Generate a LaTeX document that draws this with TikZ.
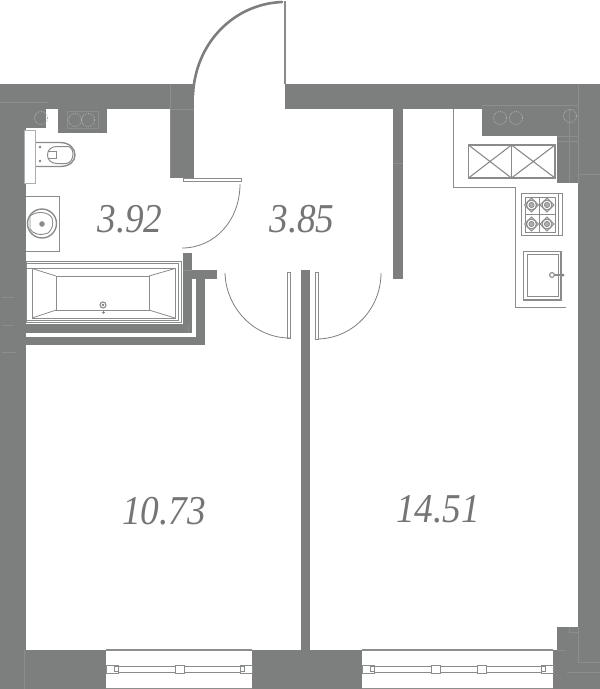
\documentclass[tikz,border=0pt]{standalone}
\usepackage{fontspec}
\setmainfont{Liberation Serif}
\definecolor{wallc}{HTML}{7D7F7E}
\definecolor{seam}{HTML}{8C8E8D}
\definecolor{linec}{HTML}{8A8C8B}
\definecolor{labelc}{HTML}{747675}
\tikzset{
  wall/.style={fill=wallc,draw=none},
  seamline/.style={draw=seam,line width=0.6pt},
  thin line/.style={draw=linec,line width=0.8pt},
  fixture/.style={draw=linec,line width=1.1pt},
  heavy/.style={draw=linec,line width=1.7pt},
  swing/.style={draw=wallc,line width=0.8pt},
  area/.style={text=labelc,font=\fontsize{41}{41}\selectfont\itshape,inner sep=0pt,xscale=0.91},
  leaf/.style={draw=linec,line width=0.9pt,fill=white},
}
\begin{document}
\begin{tikzpicture}[x=1pt,y=-1pt]
\useasboundingbox (0,0) rectangle (600,689);
% outer walls
\fill[wall] (0,84) rectangle (194,109);
\fill[wall] (170,84) rectangle (194,178);
\fill[wall] (0,84) rectangle (26,689);
\fill[wall] (285,84) rectangle (600,109);
\fill[wall] (578,84) rectangle (600,689);
\fill[wall] (26,650) rectangle (106,689);
\fill[wall] (252,650) rectangle (362,689);
\fill[wall] (553,650) rectangle (600,689);
\fill[wall] (557,627) rectangle (578,650);
% partitions
\fill[wall] (301,270) rectangle (310,650);
\fill[wall] (393,109) rectangle (403,279);
\fill[wall] (183,253) rectangle (192,333);
\fill[wall] (183,270) rectangle (217,279);
\fill[wall] (196,279) rectangle (205,345);
\fill[wall] (26,324) rectangle (192,333);
\fill[wall] (26,337) rectangle (205,345);
% shafts
\fill[wall] (26,109) rectangle (46,128);
\fill[wall] (58,109) rectangle (107,133);
\fill[wall] (482,109) rectangle (578,136);
\fill[wall] (557,136) rectangle (578,183);
% seams inside walls
\draw[seamline] (0,102) -- (48,102);
\draw[seamline] (170,84) -- (170,178) (170,109) -- (194,109);
\draw[seamline] (2,297) -- (14,297) (2,325) -- (14,325) (2,352) -- (16,352);
\draw[seamline] (24,650) -- (24,689);
\draw[seamline] (578,84) -- (578,184) (578,174) -- (600,174);
\draw[seamline] (482,105) -- (578,105) (569,109) -- (569,183);
\draw[seamline] (557,136) -- (578,136) (557,141) -- (578,141);
\draw[seamline] (578,627) -- (578,662) -- (600,662) (567,672) -- (600,672);
\draw[seamline] (569,627) -- (569,632) -- (578,632) (557,650) -- (566,650);
\draw[seamline] (393,163) -- (403,163);
\draw[seamline] (183,270) -- (192,270);
\draw[seamline] (188,325) -- (188,333);
% shaft circles
\foreach \cx/\cy/\r in {41/118/6.5,75/120/6.5,88/120/6.5,500/118/6.5,516/118/6.5,570/116/6.5}
  \draw[draw=seam!70!white,line width=0.8pt,densely dotted] (\cx,\cy) circle[radius=\r];
\draw[seamline] (67,111) rectangle (98,128);
% entrance door
\draw[draw=linec,line width=1.6pt] (285,1) -- (285,84);
\draw[draw=wallc,line width=2.6pt,line cap=round] (282,2) .. controls (233,4) and (195,44) .. (193,95);
% bathroom door
\draw[leaf] (183,178.5) rectangle (241.5,181.5);
\draw[swing] (240,184) .. controls (240,220) and (215,248) .. (182,248);
% inner doors
\draw[leaf] (287.5,272.5) rectangle (290.5,338);
\draw[swing] (225,273) .. controls (226,308) and (254,338) .. (290,338);
\draw[leaf] (315,272.5) rectangle (318,339);
\draw[swing] (318,339) .. controls (354,338) and (381,308) .. (381,273);
% toilet
\draw[draw=linec!70!white,line width=0.8pt,fill=white] (24,130) rectangle (35,183);
\draw[fixture,line width=1.4pt] (36,142.5) -- (60,142.5) .. controls (70,142.5) and (75,149) .. (75,155) .. controls (75,161) and (70,166.5) .. (60,166.5) -- (36,166.5);
\draw[fixture,line width=1pt] (68,146.5) -- (57,146.5) .. controls (51,146.5) and (47.5,150) .. (47.5,155) .. controls (47.5,160) and (51,163.5) .. (57,163.5) -- (66,163.5) .. controls (71,163) and (73,158) .. (73,154) .. controls (73,150) and (71,147) .. (68,146.5);
\draw[fixture,line width=0.8pt] (48,151) -- (56,151) -- (56,158) -- (48,158);
\fill[wallc] (40,147) circle[radius=1.3] (40,161) circle[radius=1.3];
% washbasin
\draw[thin line] (26,196) -- (59,196) -- (59,251) -- (26,251);
\draw[fixture,line width=1.4pt] (42,223.5) circle[radius=14.5];
\draw[fixture,line width=0.9pt] (30,216) .. controls (36,211) and (48,211) .. (52,218) .. controls (54,224) and (52,230) .. (48,233) .. controls (40,236) and (33,234) .. (30,229) -- cycle;
\fill[wallc!90!white] (42,224) circle[radius=2.8];
% bathtub
\draw[thin line] (26,261.5) rectangle (181,322);
\draw[thin line] (26,263.5) -- (178,263.5) -- (178,320) -- (26,320);
\draw[thin line] (26,268.5) -- (176,268.5);
\draw[thin line] (32,268.5) rectangle (175,318);
\draw[thin line,line width=0.9pt] (56,276) rectangle (149,310);
\draw[thin line] (32,268.5) -- (56,276) (175,268.5) -- (149,276) (32,318) -- (56,310) (175,318) -- (149,310);
\draw[fixture] (103,305) circle[radius=3];
\fill[wallc] (103,305) circle[radius=1.4];
\draw[thin line,line width=0.6pt] (103,310) -- (103,314) (101.5,312.5) -- (104.5,312.5);
% kitchen counter
\draw[thin line] (453,109) -- (453,187) -- (515,187) -- (515,307.5) -- (566,307.5);
% hood
\draw[heavy] (468.5,145) rectangle (555,178);
\draw[heavy] (511.5,145) -- (511.5,178);
\draw[fixture] (468.5,145) -- (511.5,178) (468.5,178) -- (511.5,145) (511.5,145) -- (555,178) (511.5,178) -- (555,145);
% stove
\draw[thin line] (521,193.5) rectangle (562,235);
\draw[thin line] (558,193.5) -- (558,235);
\draw[thin line] (525,197) rectangle (555,232);
\draw[fixture,line width=1.2pt] (525,214.5) -- (555,214.5) (539.5,197) -- (539.5,232);
\foreach \bx/\by in {531.5/205,547/205,531.5/224,547/224}{
  \draw[fixture,line width=0.8pt,fill=white] (\bx-7,\by) -- (\bx,\by-7) -- (\bx+7,\by) -- (\bx,\by+7) -- cycle;
  \draw[fixture,fill=white] (\bx,\by) circle[radius=5];
  \draw[fixture,line width=0.8pt,fill=linec!70!white] (\bx,\by) circle[radius=2.6];
}
% kitchen sink
\draw[heavy] (523.5,251.5) rectangle (561,300);
\draw[thin line] (527,254.5) rectangle (558,296.5);
\draw[fixture,fill=white] (552,275) circle[radius=2.4];
\draw[fixture] (554.4,275) -- (563,275);
\fill[wallc] (563,275) circle[radius=1.5];
% windows
\foreach \xa/\xb in {106/252,362/553}{
  \fill[white] (\xa,650) rectangle (\xb,689);
  \draw[draw=seam,line width=1.2pt] (\xa,650) -- (\xb,650) (\xa,688.5) -- (\xb,688.5);
  \draw[thin line,fill=white] (\xa+8,666.5) rectangle (\xb-8,672);
  \draw[thin line,fill=white] (\xa,665) rectangle (\xa+12,673);
  \draw[thin line,fill=white] (\xb-12,665) rectangle (\xb,673);
  \draw[thin line,fill=white] (\xa+8,666.5) rectangle (\xa+12,671.5);
  \draw[thin line,fill=white] (\xb-12,666.5) rectangle (\xb-8,671.5);
}
\draw[thin line,fill=white] (175,665) rectangle (184,673);
\draw[thin line,fill=white] (431,665) rectangle (440,673);
\draw[thin line,fill=white] (477,665) rectangle (486,673);
% labels
\node[area] (bath) at (130,219) {3.92};
\node[area] (hall) at (302,219) {3.85};
\node[area] (bedroom) at (164,511) {10.73};
\node[area] (living) at (438,509) {14.51};
\end{tikzpicture}
\end{document}
